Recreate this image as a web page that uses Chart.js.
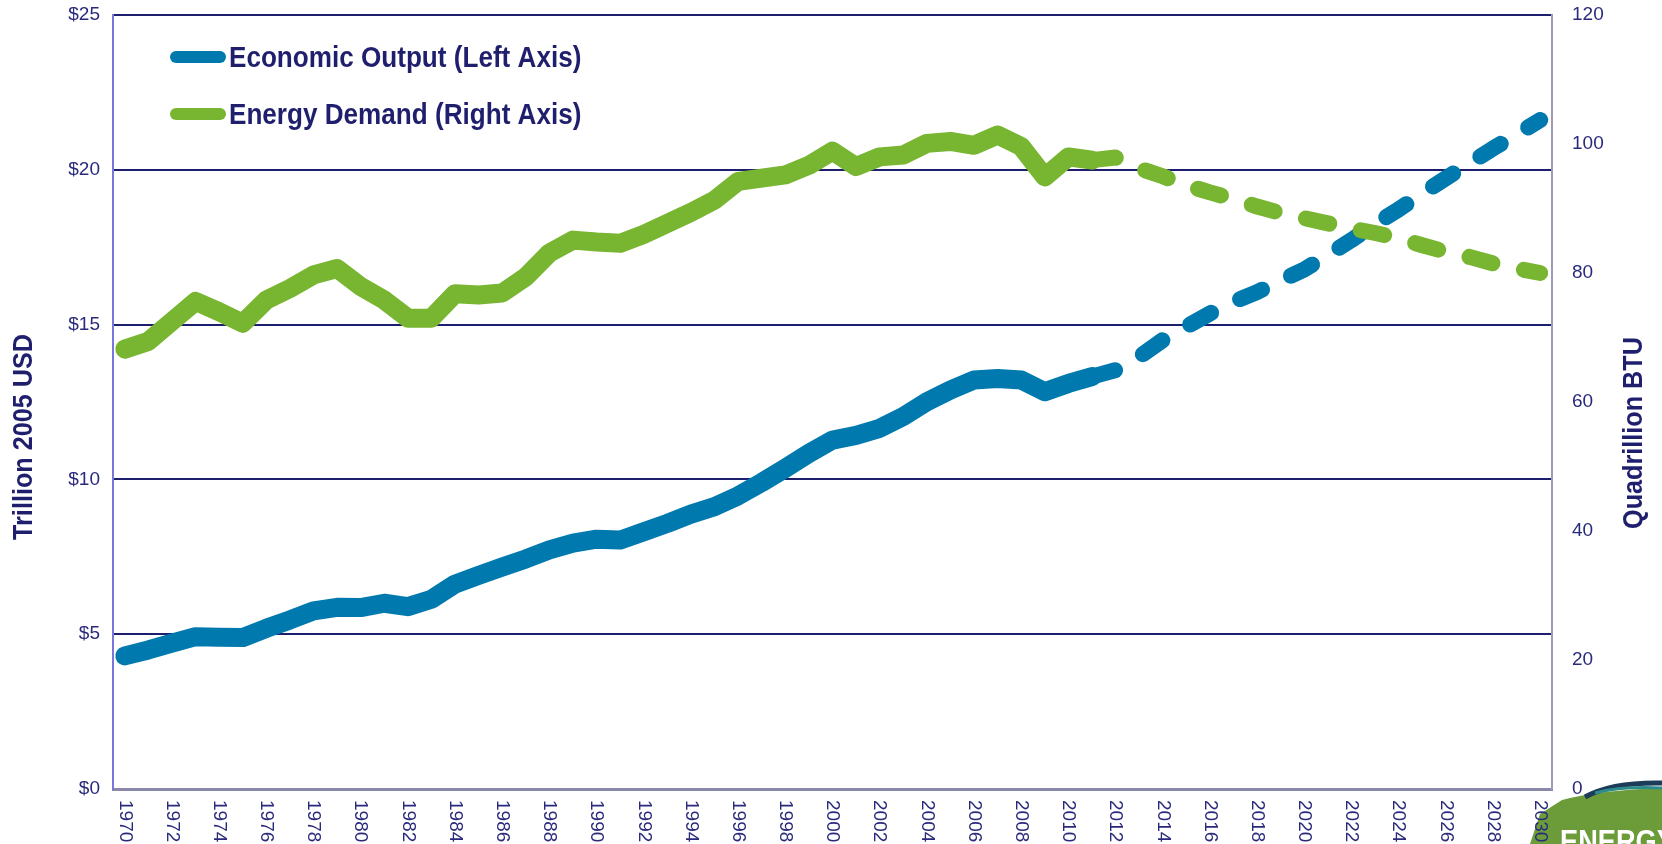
<!DOCTYPE html>
<html>
<head>
<meta charset="utf-8">
<script src="https://cdn.jsdelivr.net/npm/chart.js@4.4.1/dist/chart.umd.min.js"></script>
<style>
html,body{margin:0;padding:0;background:#ffffff;overflow:hidden;}
#wrap{width:1662px;height:844px;position:relative;}
</style>
</head>
<body>
<div id="wrap"><canvas id="c" width="1662" height="844"></canvas></div>
<script>
// ---- categories (years) ----
const years = ["1970","1971","1972","1973","1974","1975","1976","1977","1978","1979",
  "1980","1981","1982","1983","1984","1985","1986","1987","1988","1989",
  "1990","1991","1992","1993","1994","1995","1996","1997","1998","1999",
  "2000","2001","2002","2003","2004","2005","2006","2007","2008","2009",
  "2010","2011","2012","2013","2014","2015","2016","2017","2018","2019",
  "2020","2021","2022","2023","2024","2025","2026","2027","2028","2029","2030"];

// ---- Economic Output, trillion 2005 USD (left axis) ----
// historical 1970-2011
const econHist = [4.30,4.49,4.71,4.92,4.90,4.89,5.19,5.46,5.75,5.87,
  5.86,6.00,5.89,6.13,6.62,6.90,7.17,7.43,7.72,7.94,
  8.07,8.04,8.31,8.58,8.88,9.12,9.47,9.90,10.36,10.84,
  11.27,11.42,11.65,12.03,12.51,12.89,13.21,13.26,13.21,12.83,
  13.10,13.32];
// projection 2011-2030
const econProj = [13.32,13.53,13.96,14.50,14.93,15.36,15.74,16.05,16.42,16.78,
  17.25,17.73,18.25,18.72,19.24,19.73,20.21,20.69,21.14,21.61];

// ---- Energy Demand, quadrillion BTU (right axis) ----
const energyHist = [68.2,69.4,72.5,75.6,74.0,72.2,75.8,77.6,79.7,80.7,
  77.9,75.8,73.0,73.0,76.8,76.6,76.9,79.4,83.1,85.1,
  84.8,84.6,86.0,87.7,89.4,91.3,94.2,94.7,95.2,96.7,
  98.9,96.5,98.0,98.3,100.1,100.4,99.8,101.4,99.6,94.9,
  98.0,97.5];
const energyProj = [97.5,97.9,96.2,95.0,93.6,92.5,91.5,90.3,89.3,88.5,
  87.7,86.9,86.2,85.4,84.3,83.3,82.5,81.5,80.7,80.0];

const projStartYear = "2011";
const leftTicksMax = 25, leftStep = 5;
const rightTicksMax = 120, rightStep = 20;
const seriesNames = ["Economic Output (Left Axis)", "Energy Demand (Right Axis)"];
const axisTitles = ["Trillion 2005 USD", "Quadrillion BTU"];

// ---- build padded series ----
const projStart = years.indexOf(projStartYear);
function padHist(arr){ return arr.concat(new Array(years.length - arr.length).fill(null)); }
function padProj(arr){ return new Array(projStart).fill(null).concat(arr); }

const BLUE = '#0079AE', GREEN = '#78B531', NAVY = '#1F1F6E', TICK = '#2A2A7C';

const overlay = {
  id: 'overlay',
  afterDraw(chart){
    const ctx = chart.ctx;
    const xs = chart.scales.x;
    // logo (bottom right)
    ctx.save();
    ctx.fillStyle = '#6C9C3A';
    ctx.beginPath();
    ctx.moveTo(1530,844); ctx.lineTo(1540,814); ctx.lineTo(1562,800);
    ctx.quadraticCurveTo(1600,790,1662,788); ctx.lineTo(1662,844); ctx.closePath(); ctx.fill();
    ctx.strokeStyle = '#1D3C5A'; ctx.lineWidth = 5;
    ctx.beginPath(); ctx.moveTo(1585,797); ctx.quadraticCurveTo(1612,782,1662,783); ctx.stroke();
    ctx.strokeStyle = '#2E8B8B'; ctx.lineWidth = 3;
    ctx.beginPath(); ctx.moveTo(1595,793); ctx.quadraticCurveTo(1622,786,1662,788); ctx.stroke();
    ctx.fillStyle = '#FFFFFF';
    ctx.font = 'bold 32px "Liberation Sans", Arial, sans-serif';
    ctx.textBaseline = 'alphabetic'; ctx.textAlign = 'left';
    ctx.translate(1560, 852); ctx.scale(0.85,1);
    ctx.fillText('ENERGY', 0, 0);
    ctx.restore();

    // x tick labels (rotated clockwise)
    ctx.save();
    ctx.fillStyle = TICK;
    ctx.font = '19px "Liberation Sans", Arial, sans-serif';
    ctx.textAlign = 'left'; ctx.textBaseline = 'middle';
    years.forEach((y, i) => {
      if (i % 2 !== 0) return;
      const px = xs.getPixelForValue(i);
      ctx.save();
      ctx.translate(px, 800);
      ctx.rotate(Math.PI/2);
      ctx.fillText(y, 0, 0);
      ctx.restore();
    });
    ctx.restore();

    // axis titles
    ctx.save();
    ctx.fillStyle = NAVY;
    ctx.font = 'bold 28px "Liberation Sans", Arial, sans-serif';
    ctx.textAlign = 'center'; ctx.textBaseline = 'middle';
    ctx.save(); ctx.translate(24, 437); ctx.rotate(-Math.PI/2); ctx.scale(0.9,1);
    ctx.fillText(axisTitles[0], 0, 0); ctx.restore();
    ctx.save(); ctx.translate(1634, 433); ctx.rotate(-Math.PI/2); ctx.scale(0.9,1);
    ctx.fillText(axisTitles[1], 0, 0); ctx.restore();
    ctx.restore();

    // legend
    const items = [{name: seriesNames[0], color: BLUE, y: 57, base: 67},
                   {name: seriesNames[1], color: GREEN, y: 114, base: 124}];
    items.forEach(it => {
      ctx.save();
      ctx.strokeStyle = it.color; ctx.lineWidth = 12; ctx.lineCap = 'round';
      ctx.beginPath(); ctx.moveTo(176, it.y); ctx.lineTo(220, it.y); ctx.stroke();
      ctx.fillStyle = NAVY;
      ctx.font = 'bold 29px "Liberation Sans", Arial, sans-serif';
      ctx.textAlign = 'left'; ctx.textBaseline = 'alphabetic';
      ctx.translate(229, it.base); ctx.scale(0.9, 1);
      ctx.fillText(it.name, 0, 0);
      ctx.restore();
    });
  }
};

new Chart(document.getElementById('c'), {
  type: 'line',
  data: {
    labels: years,
    datasets: [
      { label: seriesNames[1], data: padHist(energyHist), yAxisID: 'y1', order: 0,
        borderColor: GREEN, borderWidth: 19, borderCapStyle: 'round', borderJoinStyle: 'round',
        pointRadius: 0, fill: false, tension: 0 },
      { label: seriesNames[1] + ' projection', data: padProj(energyProj), yAxisID: 'y1', order: 1,
        borderColor: GREEN, borderWidth: 16, borderDash: [24, 32], borderCapStyle: 'round', borderJoinStyle: 'round',
        pointRadius: 0, fill: false, tension: 0 },
      { label: seriesNames[0], data: padHist(econHist), yAxisID: 'y', order: 2,
        borderColor: BLUE, borderWidth: 19, borderCapStyle: 'round', borderJoinStyle: 'round',
        pointRadius: 0, fill: false, tension: 0 },
      { label: seriesNames[0] + ' projection', data: padProj(econProj), yAxisID: 'y', order: 3,
        borderColor: BLUE, borderWidth: 16, borderDash: [24, 32], borderCapStyle: 'round', borderJoinStyle: 'round',
        pointRadius: 0, fill: false, tension: 0 }
    ]
  },
  options: {
    responsive: false,
    animation: false,
    devicePixelRatio: 1,
    spanGaps: false,
    layout: { padding: { top: 15, left: 0, right: 0, bottom: 0 } },
    plugins: { legend: { display: false }, tooltip: { enabled: false } },
    scales: {
      x: {
        type: 'category', offset: true,
        grid: { display: false, drawTicks: false },
        border: { display: true, color: '#8A8AA8', width: 3 },
        ticks: { display: false },
        afterFit: s => { s.height = 55; }
      },
      y: {
        position: 'left', min: 0, max: leftTicksMax,
        ticks: { stepSize: leftStep, padding: 0, color: TICK,
                 font: { family: '"Liberation Sans", Arial, sans-serif', size: 19 },
                 callback: v => '$' + v },
        grid: { drawTicks: true, tickLength: 13, tickColor: 'rgba(0,0,0,0)', lineWidth: 2,
                color: c => (c.tick && c.tick.value === 0) ? 'rgba(0,0,0,0)' : '#1E1E6E' },
        border: { display: true, color: '#7878DC', width: 2 },
        afterFit: s => { s.width = 113; }
      },
      y1: {
        position: 'right', min: 0, max: rightTicksMax,
        ticks: { stepSize: rightStep, padding: 0, color: TICK,
                 font: { family: '"Liberation Sans", Arial, sans-serif', size: 19 } },
        grid: { display: false, drawTicks: true, tickLength: 20, tickColor: 'rgba(0,0,0,0)' },
        border: { display: true, color: '#9C9CB6', width: 2 },
        afterFit: s => { s.width = 110; }
      }
    }
  },
  plugins: [overlay]
});
</script>
</body>
</html>
